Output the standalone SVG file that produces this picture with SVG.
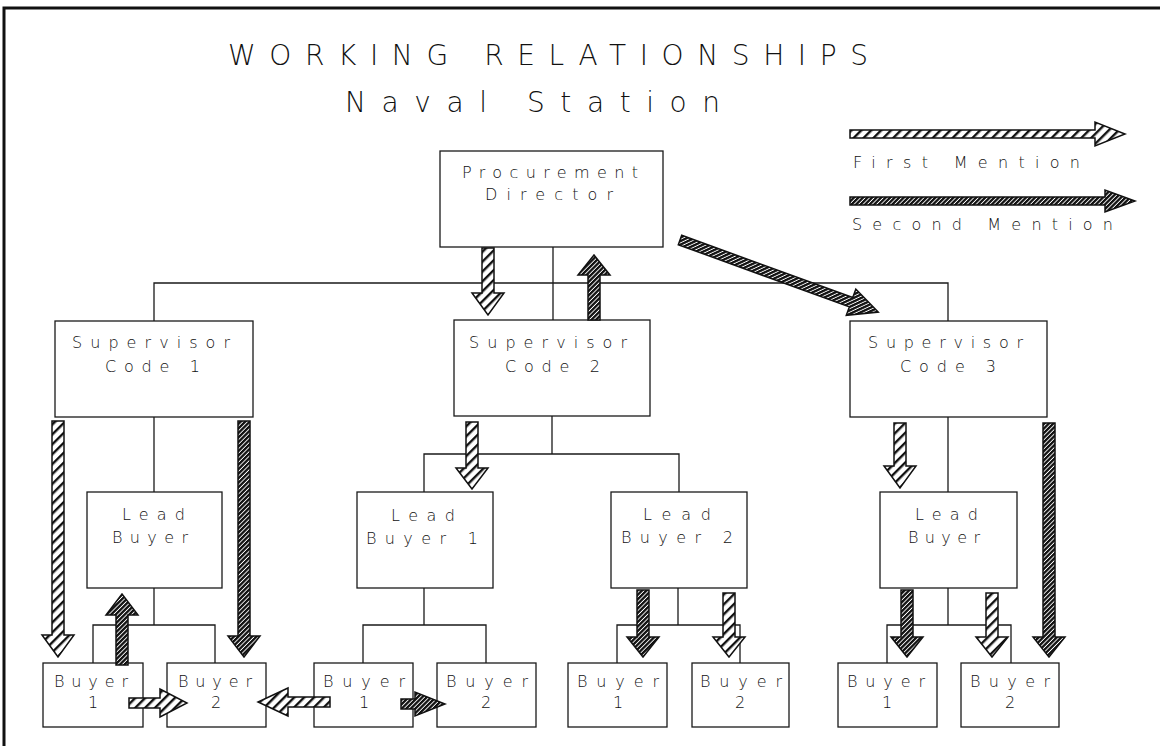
<svg xmlns="http://www.w3.org/2000/svg" width="1167" height="746" viewBox="0 0 1167 746">
<style>
.bg{fill:#fff}
.box{fill:#fff;stroke:#1a1a1a;stroke-width:1.3}
.ln{fill:none;stroke:#1a1a1a;stroke-width:1.3}
.t{font-family:"DejaVu Sans","Liberation Sans",sans-serif;font-size:16px;font-weight:200;fill:#111}
.tt{font-family:"DejaVu Sans","Liberation Sans",sans-serif;font-size:28px;font-weight:200;fill:#111}
.lt{fill:url(#hl);stroke:#111;stroke-width:1.5;stroke-linejoin:miter}
.dk{fill:url(#hd);stroke:#111;stroke-width:1.5;stroke-linejoin:miter}
</style>
<defs>
<pattern id="hl" width="7" height="7" patternUnits="userSpaceOnUse" patternTransform="rotate(45)"><rect width="7" height="7" fill="#fff"/><rect width="2.4" height="7" fill="#111"/></pattern>
<pattern id="hd" width="3.2" height="3.2" patternUnits="userSpaceOnUse" patternTransform="rotate(45)"><rect width="3.2" height="3.2" fill="#fff"/><rect width="2.3" height="3.2" fill="#111"/></pattern>
</defs>
<rect class="bg" width="1167" height="746"/>
<g id="frame" fill="none" stroke="#111" stroke-width="3">
<path d="M4,746 V8 H1160"/>
</g>
<g id="title">
<text class="tt" x="228" y="65" textLength="640" lengthAdjust="spacing">WORKING RELATIONSHIPS</text>
<text class="tt" x="345" y="112" textLength="375" lengthAdjust="spacing">Naval Station</text>
</g>
<g id="legend">
<polygon class="lt" points="850,130 1095,130 1095,122 1125,134 1095,146 1095,138 850,138"/>
<text class="t" x="853" y="168" textLength="227" lengthAdjust="spacing">First Mention</text>
<polygon class="dk" points="850,197 1105,197 1105,190 1135,201 1105,212 1105,205 850,205"/>
<text class="t" x="852" y="230" textLength="261" lengthAdjust="spacing">Second Mention</text>
</g>
<g id="connectors">
<path class="ln" d="M553,247 V320"/>
<path class="ln" d="M154,321 V283 H948 V321"/>
<path class="ln" d="M154,417 V492"/>
<path class="ln" d="M154,588 V625"/>
<path class="ln" d="M93,663 V625 H215 V663"/>
<path class="ln" d="M552,416 V454"/>
<path class="ln" d="M424,492 V454 H679 V492"/>
<path class="ln" d="M424,588 V625"/>
<path class="ln" d="M363,663 V625 H486 V663"/>
<path class="ln" d="M678,588 V625"/>
<path class="ln" d="M617,663 V625 H740 V663"/>
<path class="ln" d="M948,417 V492"/>
<path class="ln" d="M948,588 V625"/>
<path class="ln" d="M887,663 V625 H1011 V663"/>
</g>
<g id="director">
<rect class="box" x="440" y="151" width="223" height="96"/>
<text class="t" x="462" y="178" textLength="176" lengthAdjust="spacing">Procurement</text>
<text class="t" x="485" y="200" textLength="128" lengthAdjust="spacing">Director</text>
</g>
<g id="sup1">
<rect class="box" x="55" y="321" width="198" height="96"/>
<text class="t" x="72" y="348" textLength="158" lengthAdjust="spacing">Supervisor</text>
<text class="t" x="105" y="372" textLength="95" lengthAdjust="spacing">Code 1</text>
</g>
<g id="sup2">
<rect class="box" x="454" y="320" width="196" height="96"/>
<text class="t" x="469" y="348" textLength="158" lengthAdjust="spacing">Supervisor</text>
<text class="t" x="505" y="372" textLength="95" lengthAdjust="spacing">Code 2</text>
</g>
<g id="sup3">
<rect class="box" x="850" y="321" width="197" height="96"/>
<text class="t" x="868" y="348" textLength="155" lengthAdjust="spacing">Supervisor</text>
<text class="t" x="900" y="372" textLength="96" lengthAdjust="spacing">Code 3</text>
</g>
<g id="leadL">
<rect class="box" x="87" y="492" width="135" height="96"/>
<text class="t" x="122" y="520" textLength="63" lengthAdjust="spacing">Lead</text>
<text class="t" x="112" y="543" textLength="76" lengthAdjust="spacing">Buyer</text>
</g>
<g id="lead1">
<rect class="box" x="357" y="492" width="136" height="96"/>
<text class="t" x="391" y="521" textLength="64" lengthAdjust="spacing">Lead</text>
<text class="t" x="366" y="544" textLength="112" lengthAdjust="spacing">Buyer 1</text>
</g>
<g id="lead2">
<rect class="box" x="611" y="492" width="136" height="96"/>
<text class="t" x="643" y="520" textLength="68" lengthAdjust="spacing">Lead</text>
<text class="t" x="621" y="543" textLength="112" lengthAdjust="spacing">Buyer 2</text>
</g>
<g id="leadR">
<rect class="box" x="880" y="492" width="137" height="96"/>
<text class="t" x="915" y="520" textLength="63" lengthAdjust="spacing">Lead</text>
<text class="t" x="908" y="543" textLength="72" lengthAdjust="spacing">Buyer</text>
</g>
<g id="buyerL1"><rect class="box" x="43" y="663" width="100" height="64"/><text class="t" x="54" y="687" textLength="74" lengthAdjust="spacing">Buyer</text><text class="t" x="88" y="708">1</text></g>
<g id="buyerL2"><rect class="box" x="167" y="663" width="99" height="64"/><text class="t" x="178" y="687" textLength="74" lengthAdjust="spacing">Buyer</text><text class="t" x="211" y="708">2</text></g>
<g id="buyer1a"><rect class="box" x="314" y="663" width="99" height="64"/><text class="t" x="323" y="687" textLength="82" lengthAdjust="spacing">Buyer</text><text class="t" x="359" y="708">1</text></g>
<g id="buyer1b"><rect class="box" x="437" y="663" width="99" height="64"/><text class="t" x="446" y="687" textLength="82" lengthAdjust="spacing">Buyer</text><text class="t" x="481" y="708">2</text></g>
<g id="buyer2a"><rect class="box" x="568" y="663" width="99" height="64"/><text class="t" x="577" y="687" textLength="82" lengthAdjust="spacing">Buyer</text><text class="t" x="613" y="708">1</text></g>
<g id="buyer2b"><rect class="box" x="692" y="663" width="97" height="64"/><text class="t" x="700" y="687" textLength="82" lengthAdjust="spacing">Buyer</text><text class="t" x="735" y="708">2</text></g>
<g id="buyerR1"><rect class="box" x="838" y="663" width="99" height="64"/><text class="t" x="847" y="687" textLength="78" lengthAdjust="spacing">Buyer</text><text class="t" x="882" y="708">1</text></g>
<g id="buyerR2"><rect class="box" x="961" y="663" width="98" height="64"/><text class="t" x="970" y="687" textLength="80" lengthAdjust="spacing">Buyer</text><text class="t" x="1005" y="708">2</text></g>
<g id="arrows">
<polygon class="lt" points="482,248 494,248 494,293 504,293 488,315 472,293 482,293"/>
<polygon class="dk" points="588,320 600,320 600,275 610,275 594,255 578,275 588,275"/>
<g transform="translate(680,240) rotate(19.98)"><polygon class="dk" points="0,-5 182,-5 182,-14 211,0 182,14 182,5 0,5"/></g>
<polygon class="lt" points="52,421 64,421 64,635 74,635 58,657 42,635 52,635"/>
<polygon class="dk" points="238,421 250,421 250,636 260,636 244,657 228,636 238,636"/>
<polygon class="dk" points="116,665 128,665 128,615 138,615 122,594 106,615 116,615"/>
<polygon class="lt" points="129,698 160,698 160,689 187,703 160,717 160,708 129,708"/>
<polygon class="lt" points="330,697 288,697 288,688 258,702 288,716 288,707 330,707"/>
<polygon class="dk" points="401,699 415,699 415,692 445,704 415,716 415,709 401,709"/>
<polygon class="lt" points="466,422 478,422 478,468 488,468 472,489 456,468 466,468"/>
<polygon class="dk" points="637,590 649,590 649,637 659,637 643,657 627,637 637,637"/>
<polygon class="lt" points="723,593 735,593 735,637 745,637 729,657 713,637 723,637"/>
<polygon class="lt" points="894,423 906,423 906,466 916,466 900,488 884,466 894,466"/>
<polygon class="dk" points="1043,423 1055,423 1055,637 1065,637 1049,657 1033,637 1043,637"/>
<polygon class="dk" points="901,590 913,590 913,637 923,637 907,657 891,637 901,637"/>
<polygon class="lt" points="986,593 998,593 998,637 1008,637 992,657 976,637 986,637"/>
</g>
</svg>
